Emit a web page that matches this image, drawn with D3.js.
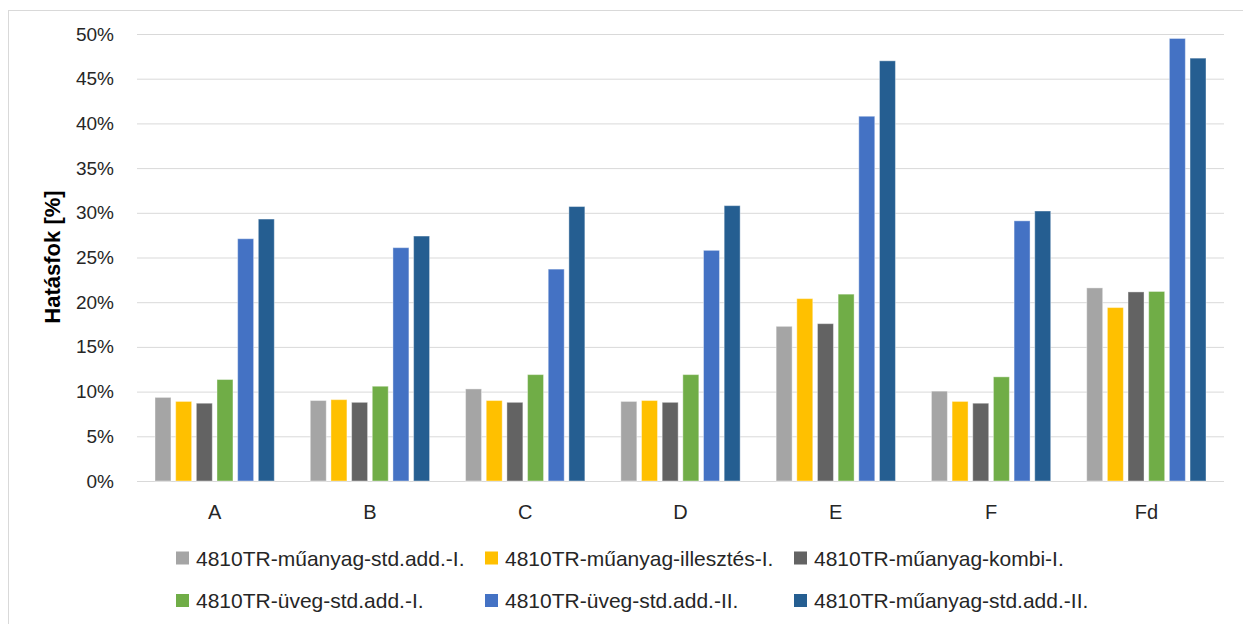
<!DOCTYPE html>
<html lang="hu">
<head>
    <meta charset="UTF-8">
    <title>Hatásfok</title>
    <script src="https://d3js.org/d3.v7.min.js"></script>
    <style>
        body { margin: 0; background: #fff; }
        svg { display: block; font-family: "Liberation Sans", Arial, sans-serif; }
    </style>
</head>
<body>
    <svg width="1243" height="624"></svg>

    <script>
        // Data
        const categories = ["A", "B", "C", "D", "E", "F", "Fd"];
        const seriesNames = [
            "4810TR-műanyag-std.add.-I.",
            "4810TR-műanyag-illesztés-I.",
            "4810TR-műanyag-kombi-I.",
            "4810TR-üveg-std.add.-I.",
            "4810TR-üveg-std.add.-II.",
            "4810TR-műanyag-std.add.-II."
        ];
        const muanyagStdI   = [9.35, 9.0, 10.3, 8.9, 17.3, 10.05, 21.6];
        const muanyagIllI   = [8.9, 9.1, 9.0, 9.0, 20.4, 8.9, 19.4];
        const muanyagKombiI = [8.7, 8.8, 8.8, 8.8, 17.6, 8.7, 21.15];
        const uvegStdI      = [11.35, 10.6, 11.9, 11.9, 20.9, 11.65, 21.2];
        const uvegStdII     = [27.1, 26.1, 23.7, 25.8, 40.8, 29.1, 49.5];
        const muanyagStdII  = [29.3, 27.4, 30.7, 30.8, 47.0, 30.2, 47.3];
        const yTicks = [0, 5, 10, 15, 20, 25, 30, 35, 40, 45, 50];
        const colors = ["#A5A5A5", "#FFC000", "#636363", "#70AD47", "#4472C4", "#255E91"];

        const allSeries = [muanyagStdI, muanyagIllI, muanyagKombiI, uvegStdI, uvegStdII, muanyagStdII];

        const svg = d3.select("svg");
        const plot = {left: 137, right: 1224, top: 34, bottom: 481};

        // chart frame
        svg.append("rect")
            .attr("x", 8.5).attr("y", 10.5)
            .attr("width", 1240).attr("height", 620)
            .attr("fill", "none")
            .attr("stroke", "#d9d9d9");

        const x0 = d3.scaleBand()
            .domain(categories)
            .range([plot.left, plot.right]);

        const inner = 18;
        const x1 = d3.scaleBand()
            .domain(d3.range(seriesNames.length))
            .range([inner, x0.bandwidth() - inner])
            .paddingInner(0.227);

        const y = d3.scaleLinear()
            .domain([0, 50])
            .range([plot.bottom, plot.top]);

        // y axis with gridlines
        const yAxis = svg.append("g")
            .attr("transform", `translate(${plot.left},0)`)
            .call(d3.axisLeft(y)
                .tickValues(yTicks)
                .tickFormat(d => d + "%")
                .tickSize(-(plot.right - plot.left))
                .tickPadding(23));
        yAxis.select(".domain").remove();
        yAxis.selectAll(".tick line").attr("stroke", "#d9d9d9").attr("stroke-width", 1);
        yAxis.selectAll(".tick text")
            .attr("fill", "#262626")
            .style("font-size", "19px");

        // y axis title
        svg.append("text")
            .attr("transform", "rotate(-90)")
            .attr("x", -257)
            .attr("y", 60)
            .attr("text-anchor", "middle")
            .attr("fill", "#000")
            .style("font-size", "22px")
            .style("font-weight", "bold")
            .text("Hatásfok [%]");

        // bars
        const groups = svg.append("g").selectAll("g")
            .data(categories)
            .join("g")
            .attr("transform", d => `translate(${x0(d)},0)`);

        groups.selectAll("rect")
            .data((c, ci) => allSeries.map((s, si) => ({si, v: s[ci]})))
            .join("rect")
            .attr("x", d => x1(d.si))
            .attr("width", x1.bandwidth())
            .attr("y", d => y(d.v))
            .attr("height", d => y(0) - y(d.v))
            .attr("fill", d => colors[d.si])
            .attr("stroke", "#fff")
            .attr("stroke-opacity", 0.4)
            .attr("stroke-width", 1);

        // x axis labels
        const xAxis = svg.append("g")
            .attr("transform", `translate(0,${plot.bottom})`)
            .call(d3.axisBottom(x0).tickSize(0).tickPadding(24));
        xAxis.select(".domain").remove();
        xAxis.selectAll(".tick text")
            .attr("fill", "#262626")
            .style("font-size", "20px");

        // legend, 3 columns x 2 rows
        const legend = svg.append("g").selectAll("g")
            .data(seriesNames)
            .join("g")
            .attr("transform", (d, i) => `translate(${176 + (i % 3) * 309},${558 + Math.floor(i / 3) * 42.5})`);

        legend.append("rect")
            .attr("x", 0).attr("y", -6.5)
            .attr("width", 13).attr("height", 13)
            .attr("fill", (d, i) => colors[i]);

        legend.append("text")
            .attr("x", 20)
            .attr("dy", "0.36em")
            .attr("fill", "#262626")
            .style("font-size", "21px")
            .text(d => d);
    </script>
</body>
</html>
